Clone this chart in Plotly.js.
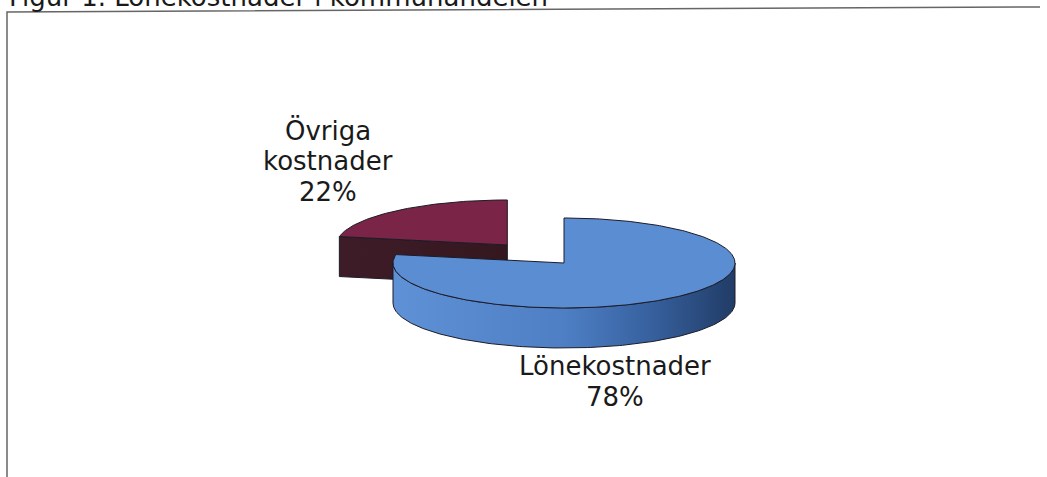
<!DOCTYPE html>
<html>
<head>
<meta charset="utf-8">
<script src="https://cdn.plot.ly/plotly-3.0.1.min.js"></script>
<style>html,body{margin:0;padding:0;background:#fff}</style>
</head>
<body>
<div id="chart" style="width:1047px;height:477px"></div>
<script>
// pieChart.js

const chartTitle = "Figur 1. Lönekostnader i kommunandelen";
const labels = ["Lönekostnader", "Övriga kostnader"];
const shares = [78, 22];

// look of the tilted pie (pixel units, y grows downwards)
const topColors = ["#5b8dd3", "#7a2447"];
const sideColors = [
  [[0, "#5f91d7"], [0.5, "#4e7fc5"], [0.75, "#37619f"], [1, "#213c66"]],
  [[0, "#3e1c27"], [1, "#34171f"]]
];
const pulls = [0, 0.52];
const cx = 564, cy = 263;           // centre of the top face
const rx = 171, ry = 45, depth = 40;
const labelPos = [[615, 366], [328, 130]]; // centre of the first label line
const lineGap = 31;
const edgeColor = "#1c1c28";
const font = { family: "DejaVu Sans, Verdana, sans-serif", size: 26, color: "#1a1a1a" };

const rad = (d) => d * Math.PI / 180;

function rim(c, t, z) {
  return [c.x + rx * Math.sin(rad(t)), c.y - ry * Math.cos(rad(t)) + z];
}

function arc(c, t0, t1, z) {
  const pts = [];
  const n = Math.max(2, Math.ceil(Math.abs(t1 - t0)));
  for (let i = 0; i <= n; i++) pts.push(rim(c, t0 + (t1 - t0) * i / n, z));
  return pts;
}

function polyTrace(pts, style) {
  return Object.assign({
    x: pts.map((p) => p[0]),
    y: pts.map((p) => p[1]),
    type: "scatter",
    mode: "lines",
    fill: "toself",
    line: { color: edgeColor, width: 1 },
    hoverinfo: "skip",
    showlegend: false
  }, style);
}

// slice angles, clockwise from 12 o'clock
const total = shares.reduce((a, b) => a + b, 0);
let acc = 0;
const slices = shares.map((v, i) => {
  const t0 = acc / total * 360;
  acc += v;
  const t1 = acc / total * 360;
  const mid = (t0 + t1) / 2;
  const c = {
    x: cx + pulls[i] * rx * Math.sin(rad(mid)),
    y: cy - pulls[i] * ry * Math.cos(rad(mid))
  };
  return { i, t0, t1, c };
});

// back slices first
const order = slices.slice().sort((a, b) => a.c.y - b.c.y);
const traces = [];

order.forEach((s) => {
  const i = s.i;
  const side = { fillgradient: { type: "horizontal", colorscale: sideColors[i] } };

  // cut faces that turn towards the viewer
  [[s.t0, s.t0 - 90], [s.t1, s.t1 + 90]].forEach(([t, normal]) => {
    if (Math.cos(rad(normal)) < -0.01) {
      const pts = [[s.c.x, s.c.y], rim(s.c, t, 0), rim(s.c, t, depth), [s.c.x, s.c.y + depth], [s.c.x, s.c.y]];
      traces.push(polyTrace(pts, side));
    }
  });

  // outer wall, front half only
  const a0 = Math.max(s.t0, 90), a1 = Math.min(s.t1, 270);
  if (a1 > a0) {
    const pts = arc(s.c, a0, a1, 0).concat(arc(s.c, a1, a0, depth));
    pts.push(pts[0]);
    traces.push(polyTrace(pts, side));
  }

  // top face
  const top = [[s.c.x, s.c.y]].concat(arc(s.c, s.t0, s.t1, 0), [[s.c.x, s.c.y]]);
  traces.push(polyTrace(top, { fillcolor: topColors[i], name: labels[i] }));
});

// labels, one annotation per line
const annotations = [];
labels.forEach((lab, i) => {
  const lines = lab.split(" ").concat([Math.round(shares[i] / total * 100) + "%"]);
  lines.forEach((txt, k) => {
    annotations.push({
      x: labelPos[i][0], y: labelPos[i][1] + k * lineGap,
      xref: "x", yref: "y",
      text: txt, showarrow: false,
      xanchor: "center", yanchor: "middle",
      font: font
    });
  });
});

annotations.push({
  x: 7 / 1047, y: 1 + 2.5 / 477,
  xref: "paper", yref: "paper",
  text: chartTitle, showarrow: false,
  xanchor: "left", yanchor: "middle",
  font: font
});

const layout = {
  width: 1047,
  height: 477,
  margin: { l: 0, r: 0, t: 0, b: 0 },
  paper_bgcolor: "#fff",
  plot_bgcolor: "#fff",
  xaxis: { range: [0, 1047], visible: false, fixedrange: true },
  yaxis: { range: [477, 0], visible: false, fixedrange: true },
  annotations: annotations,
  shapes: [{
    type: "path",
    path: "M7,477 L7,12 L1040,7",
    line: { color: "#666", width: 1.5 }
  }],
  showlegend: false
};

Plotly.newPlot("chart", traces, layout, { staticPlot: true });
</script>
</body>
</html>
